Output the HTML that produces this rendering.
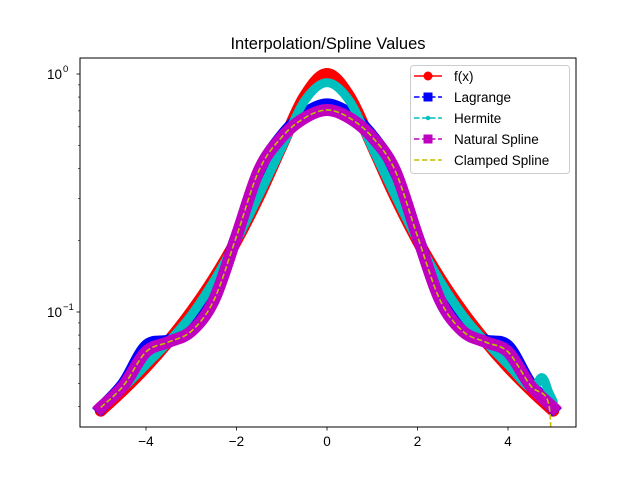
<!DOCTYPE html>
<html><head><meta charset="utf-8"><style>
body{margin:0;background:#fff}
svg text{font-family:"Liberation Sans","DejaVu Sans",sans-serif}
</style></head><body>
<svg id="chart" width="640" height="480" viewBox="0 0 640 480" xmlns="http://www.w3.org/2000/svg">
<rect width="640" height="480" fill="#fff"/>
<text x="328" y="49" text-anchor="middle" font-size="16.5" fill="#000">Interpolation/Spline Values</text>
<defs><clipPath id="clip"><rect x="80" y="58" width="496" height="369"/></clipPath></defs>
<g id="series" clip-path="url(#clip)"></g>
<g id="axes"></g>
<g id="legend"></g>
</svg>
<script>
const xs = [-5,-4.5,-4,-3.5,-3,-2.5,-2,-1.5,-1,-0.5,0,0.5,1,1.5,2,2.5,3,3.5,4,4.5,5];
const fVals = [0.0385,0.0471,0.0588,0.0755,0.1,0.1379,0.2,0.3077,0.5,0.8,1.0,0.8,0.5,0.3077,0.2,0.1379,0.1,0.0755,0.0588,0.0471,0.0385];
const lagrangeVals = [0.0395,0.05,0.072,0.076,0.085,0.115,0.208,0.39,0.55,0.68,0.745,0.68,0.55,0.39,0.208,0.115,0.085,0.076,0.072,0.05,0.0395];
const hermiteXs = [-5,-4.5,-4,-3.5,-3,-2.5,-2,-1.5,-1,-0.5,0,0.5,1,1.5,2,2.5,3,3.5,4,4.5,4.75,4.9,5];
const hermiteVals = [0.0395,0.048,0.06,0.075,0.097,0.135,0.2,0.31,0.49,0.77,0.92,0.77,0.49,0.31,0.2,0.135,0.097,0.075,0.06,0.048,0.053,0.046,0.042];
const naturalVals = [0.0397,0.049,0.068,0.0748,0.083,0.112,0.208,0.395,0.543,0.653,0.706,0.653,0.543,0.395,0.208,0.112,0.083,0.0748,0.068,0.049,0.0397];
const clampedXs = [-5,-4.5,-4,-3.5,-3,-2.5,-2,-1.5,-1,-0.5,0,0.5,1,1.5,2,2.5,3,3.5,4,4.5,4.9,4.95];
const clampedVals = [0.0397,0.049,0.068,0.0748,0.083,0.112,0.208,0.395,0.543,0.653,0.706,0.653,0.543,0.395,0.208,0.112,0.083,0.0748,0.068,0.049,0.041,0.02];
const xTicks = [-4,-2,0,2,4];
const yTickVals = [1,0.1];
const yTickLabels = ["10","10"];

const X = v => 327 + 45.25*v;
const Y = v => 74 - 238*Math.log10(v);
const NS = "http://www.w3.org/2000/svg";
function mk(tag, attrs, parent){const e=document.createElementNS(NS,tag);for(const k in attrs)e.setAttribute(k,attrs[k]);parent.appendChild(e);return e;}
function smoothPath(px, vals){
  const p = px.map((x,i)=>[X(x),Y(vals[i])]);
  let d = "M"+p[0][0]+","+p[0][1];
  for(let i=0;i<p.length-1;i++){
    const p0=p[Math.max(i-1,0)],p1=p[i],p2=p[i+1],p3=p[Math.min(i+2,p.length-1)];
    const c1=[p1[0]+(p2[0]-p0[0])/6,p1[1]+(p2[1]-p0[1])/6];
    const c2=[p2[0]-(p3[0]-p1[0])/6,p2[1]-(p3[1]-p1[1])/6];
    d+=" C"+c1+" "+c2+" "+p2;
  }
  return d;
}
const sg = document.getElementById("series");
let el;
el = mk("path",{d:smoothPath(xs,fVals),fill:"none",stroke:"#ff0000","stroke-width":12,"stroke-linecap":"round","stroke-linejoin":"round"},sg);


el = mk("path",{d:smoothPath(xs,lagrangeVals),fill:"none",stroke:"#0000ff","stroke-width":12,"stroke-linecap":"square","stroke-linejoin":"round"},sg);


el = mk("path",{d:smoothPath(hermiteXs,hermiteVals),fill:"none",stroke:"#00bfbf","stroke-width":9,"stroke-linecap":"round","stroke-linejoin":"round"},sg);


el = mk("path",{d:smoothPath(xs,naturalVals),fill:"none",stroke:"#bf00bf","stroke-width":12,"stroke-linecap":"square","stroke-linejoin":"round"},sg);


el = mk("path",{d:smoothPath(clampedXs,clampedVals),fill:"none",stroke:"#bfbf00","stroke-width":1.6,"stroke-dasharray":"5.5,2.5"},sg);



const ax = document.getElementById("axes");
el = mk("rect",{x:80,y:58,width:496,height:369,fill:"none",stroke:"#000","stroke-width":1},ax);


xTicks.forEach(t=>{
  const l=mk("line",{x1:X(t),x2:X(t),y1:427,y2:430.5,stroke:"#000","stroke-width":0.8},ax);
  
  
  const tx=mk("text",{x:X(t),y:446,"text-anchor":"middle","font-size":13.5},ax);
  tx.textContent=(t<0?"\u2212"+(-t):""+t);
  
  
});
yTickVals.forEach((v,i)=>{
  const y=Y(v);
  const l=mk("line",{x1:76.5,x2:80,y1:y,y2:y,stroke:"#000","stroke-width":0.8},ax);
  
  
  const tx=mk("text",{x:62,y:y+5,"text-anchor":"end","font-size":13.5},ax);
  tx.textContent=yTickLabels[i];
  
  
  const ex=mk("text",{x:63,y:y-2,"font-size":9.5},ax);
  ex.textContent=(v===1?"0":"\u22121");
  
  
});
[0.04,0.05,0.06,0.07,0.08,0.09,0.2,0.3,0.4,0.5,0.6,0.7,0.8,0.9].forEach(v=>{
  const y=Y(v);
  const l=mk("line",{x1:78,x2:80,y1:y,y2:y,stroke:"#000","stroke-width":0.6},ax);
  
  
});

const lg = document.getElementById("legend");
el = mk("rect",{x:410.5,y:65.5,width:159,height:108,rx:3,fill:"#fff","fill-opacity":0.8,stroke:"#ccc","stroke-width":1},lg);


const entries=[["f(x)","#ff0000","","circle"],["Lagrange","#0000ff","5.5,2.5","square"],["Hermite","#00bfbf","5.5,2.5","dot"],["Natural Spline","#bf00bf","5.5,2.5","square"],["Clamped Spline","#bfbf00","5.5,2.5",""]];
entries.forEach((e,i)=>{
  const y=76+i*21;
  const g=mk("g",{},lg);
  
  
  const a={x1:414,x2:442,y1:y,y2:y,stroke:e[1],"stroke-width":1.6};
  if(e[2])a["stroke-dasharray"]=e[2];
  mk("line",a,g);
  if(e[3]==="circle")mk("circle",{cx:428,cy:y,r:4.5,fill:e[1]},g);
  if(e[3]==="square")mk("rect",{x:423.5,y:y-4.5,width:9,height:9,fill:e[1]},g);
  if(e[3]==="dot")mk("circle",{cx:428,cy:y,r:2.2,fill:e[1]},g);
  const t=mk("text",{x:454,y:y+5,"font-size":13.5},g);
  t.textContent=e[0];
});
</script>
</body></html>
